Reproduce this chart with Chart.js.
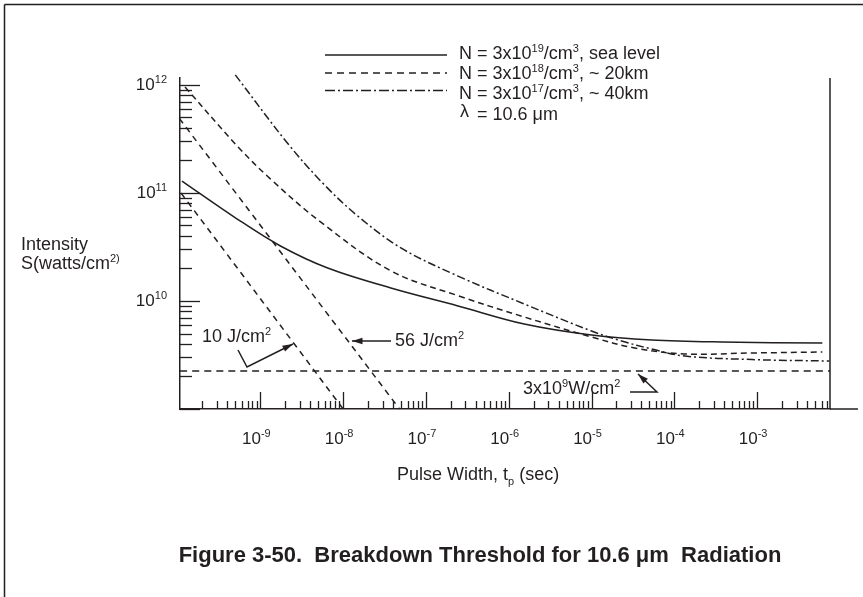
<!DOCTYPE html>
<html>
<head>
<meta charset="utf-8">
<script src="https://cdn.jsdelivr.net/npm/chart.js@4/dist/chart.umd.min.js"></script>
<style>
  body { margin: 0; background: #fff; }
  canvas { display: block; }
</style>
</head>
<body>
<canvas id="chart" width="863" height="597"></canvas>
<script>
// Pulse width t (sec) and threshold intensity S (W/cm2)
var seaLevelT = [1.13e-10, 5.26e-10, 1.75e-9, 6.5e-9, 3.77e-8, 2.44e-7, 1.54e-6, 1.0e-5, 5.33e-5, 3.77e-4, 6.14e-3];
var seaLevelS = [1.29e11, 5.74e10, 3.23e10, 2.02e10, 1.32e10, 9.0e9, 6.12e9, 4.84e9, 4.35e9, 4.17e9, 4.08e9];

var km20T = [1.23e-10, 5.26e-10, 1.32e-9, 5.33e-9, 3.77e-8, 2.44e-7, 1.54e-6, 1.0e-5, 3.32e-5, 1.34e-4, 8.69e-4, 6.14e-3];
var km20S = [9.58e11, 2.72e11, 1.35e11, 5.39e10, 1.9e10, 1.12e10, 7.11e9, 4.64e9, 3.67e9, 3.23e9, 3.30e9, 3.37e9];

var km40T = [4.98e-10, 2.12e-9, 5.81e-9, 1.5e-8, 4.98e-8, 2.44e-7, 1.54e-6, 1.0e-5, 2.31e-5, 5.33e-5, 1.34e-4, 8.69e-4, 7.46e-3];
var km40S = [1.24e12, 2.9e11, 1.21e11, 6.12e10, 3.1e10, 1.7e10, 9.38e9, 5.27e9, 4.26e9, 3.59e9, 3.09e9, 2.87e9, 2.78e9];

// constant fluence lines (10 and 56 J/cm2) and the 3x10^9 W/cm2 level
var fluence10T = [1.1e-10, 1.0e-8];
var fluence10S = [1.0e11, 1.0e9];
var fluence56T = [1.05e-10, 4.8e-8];
var fluence56S = [4.9e11, 1.0e9];
var levelT = [1.07e-10, 7.6e-3];
var levelS = [2.25e9, 2.25e9];

// axes
var xMin = 1.07e-10, xMax = 7.6e-3;
var yMin = 1e9, yMax = 1.16e12;
var xExponents = ['-9', '-8', '-7', '-6', '-5', '-4', '-3'];
var yExponents = ['10', '11', '12'];

// legend text
var densityExp = ['19', '18', '17'];
var altitudes = [', sea level', ', ~ 20km', ', ~ 40km'];

const ink = '#231f20';
const FONT = "'Liberation Sans', Arial, sans-serif";

function pts(xs, ys) {
    return xs.map(function (x, i) { return { x: x, y: ys[i] }; });
}

function curve(label, xs, ys, dash) {
    return {
        label: label,
        data: pts(xs, ys),
        showLine: true,
        borderColor: ink,
        borderWidth: 1.5,
        borderDash: dash,
        pointRadius: 0,
        tension: 0.35,
        clip: 4
    };
}

// draws a run of normal / superscript / subscript pieces
function rich(ctx, parts, x, y, align, size, bold) {
    const small = Math.round(size * 0.62);
    const w = bold ? 'bold ' : '';
    let total = 0;
    parts.forEach(function (p) {
        ctx.font = w + (p[1] === 'n' ? size : small) + 'px ' + FONT;
        total += ctx.measureText(p[0]).width;
    });
    let cx = align === 'center' ? x - total / 2 : align === 'right' ? x - total : x;
    ctx.textAlign = 'left';
    ctx.textBaseline = 'alphabetic';
    parts.forEach(function (p) {
        ctx.font = w + (p[1] === 'n' ? size : small) + 'px ' + FONT;
        let dy = p[1] === 'sup' ? -size * 0.4 : p[1] === 'sub' ? size * 0.25 : 0;
        ctx.fillText(p[0], cx, y + dy);
        cx += ctx.measureText(p[0]).width;
    });
}

function seg(ctx, x1, y1, x2, y2) {
    ctx.beginPath();
    ctx.moveTo(x1, y1);
    ctx.lineTo(x2, y2);
    ctx.stroke();
}

function arrow(ctx, path) {
    ctx.beginPath();
    ctx.moveTo(path[0][0], path[0][1]);
    for (let i = 1; i < path.length; i++) ctx.lineTo(path[i][0], path[i][1]);
    ctx.stroke();
    const a = path[path.length - 2], b = path[path.length - 1];
    const ang = Math.atan2(b[1] - a[1], b[0] - a[0]);
    ctx.beginPath();
    ctx.moveTo(b[0], b[1]);
    ctx.lineTo(b[0] - 11 * Math.cos(ang - 0.3), b[1] - 11 * Math.sin(ang - 0.3));
    ctx.lineTo(b[0] - 11 * Math.cos(ang + 0.3), b[1] - 11 * Math.sin(ang + 0.3));
    ctx.closePath();
    ctx.fill();
}

function logTicks(ctx, scale, area, horizontal, majorLen, minorLen) {
    const lo = Math.floor(Math.log10(scale.min));
    const hi = Math.ceil(Math.log10(scale.max));
    for (let e = lo; e <= hi; e++) {
        for (let k = 1; k <= 9; k++) {
            const v = k * Math.pow(10, e);
            if (v < scale.min * 0.999 || v > scale.max * 1.001) continue;
            const p = Math.round(scale.getPixelForValue(v)) + 0.5;
            const len = k === 1 ? majorLen : minorLen;
            if (horizontal) seg(ctx, p, area.bottom, p, area.bottom - len);
            else seg(ctx, area.left, p, area.left + len, p);
        }
    }
}

const extras = {
    id: 'extras',
    afterDraw(chart) {
        const ctx = chart.ctx, a = chart.chartArea;
        const xs = chart.scales.x, ys = chart.scales.y;
        ctx.save();
        ctx.strokeStyle = ink;
        ctx.fillStyle = ink;
        ctx.lineWidth = 1.5;

        // page frame (top and left)
        seg(ctx, 4.5, 4.5, 863, 4.5);
        seg(ctx, 4.5, 4.5, 4.5, 597);

        // right edge and x axis running past it
        seg(ctx, a.right, a.top, a.right, a.bottom);
        seg(ctx, a.right, a.bottom, 858, a.bottom);

        // inward ticks
        ctx.lineWidth = 1.3;
        logTicks(ctx, xs, a, true, 17, 8);
        logTicks(ctx, ys, a, false, 20, 12);

        // tick labels
        xExponents.forEach(function (e) {
            const p = xs.getPixelForValue(Math.pow(10, +e));
            rich(ctx, [['10', 'n'], [e, 'sup']], p - 4, 444, 'center', 17);
        });
        yExponents.forEach(function (e) {
            const p = ys.getPixelForValue(Math.pow(10, +e));
            rich(ctx, [['10', 'n'], [e, 'sup']], 167, p + 5, 'right', 17);
        });

        // axis titles
        rich(ctx, [['Intensity', 'n']], 21, 250, 'left', 18);
        rich(ctx, [['S(watts/cm', 'n'], ['2)', 'sup']], 21, 269, 'left', 18);
        rich(ctx, [['Pulse Width, t', 'n'], ['p', 'sub'], [' (sec)', 'n']], 397, 480, 'left', 18);

        // legend
        ctx.lineWidth = 1.5;
        const sampleY = [55, 73, 90.5];
        const textY = [59, 79, 99];
        chart.data.datasets.slice(0, 3).forEach(function (ds, i) {
            ctx.setLineDash(i === 0 ? [] : i === 1 ? [7, 5] : [10, 3, 2, 3]);
            seg(ctx, 325, sampleY[i], 447, sampleY[i]);
            ctx.setLineDash([]);
            rich(ctx, [['N = 3x10', 'n'], [densityExp[i], 'sup'], ['/cm', 'n'], ['3', 'sup'], [altitudes[i], 'n']], 459, textY[i], 'left', 18);
        });
        rich(ctx, [['\u03bb', 'n']], 460, 117, 'left', 18);
        rich(ctx, [['= 10.6 \u03bcm', 'n']], 477, 120, 'left', 18);

        // annotations
        ctx.lineWidth = 1.5;
        rich(ctx, [['10 J/cm', 'n'], ['2', 'sup']], 202, 342, 'left', 18);
        arrow(ctx, [[238, 350], [247, 367], [293, 344]]);
        rich(ctx, [['56 J/cm', 'n'], ['2', 'sup']], 395, 346, 'left', 18);
        arrow(ctx, [[391, 341], [352, 341]]);
        rich(ctx, [['3x10', 'n'], ['9', 'sup'], ['W/cm', 'n'], ['2', 'sup']], 523, 394, 'left', 18);
        arrow(ctx, [[630, 392], [657, 392], [638, 374]]);

        // caption
        rich(ctx, [['Figure 3-50.  Breakdown Threshold for 10.6 \u03bcm  Radiation', 'n']], 480, 562, 'center', 22, true);
        ctx.restore();
    }
};

const ctx = document.getElementById('chart').getContext('2d');
const chart = new Chart(ctx, {
    type: 'scatter',
    data: {
        datasets: [
            curve('sea level', seaLevelT, seaLevelS, []),
            curve('~ 20km', km20T, km20S, [6, 4]),
            curve('~ 40km', km40T, km40S, [8, 3, 2, 3]),
            curve('10 J/cm2', fluence10T, fluence10S, [6, 5]),
            curve('56 J/cm2', fluence56T, fluence56S, [6, 5]),
            curve('3x10^9 W/cm2', levelT, levelS, [7, 5])
        ]
    },
    options: {
        responsive: false,
        animation: false,
        layout: { padding: { top: 78, right: 33, left: 0, bottom: 0 } },
        plugins: { legend: { display: false }, tooltip: { enabled: false } },
        scales: {
            x: {
                type: 'logarithmic', min: xMin, max: xMax,
                grid: { display: false },
                border: { color: ink, width: 1.5 },
                ticks: { display: false },
                afterFit: function (s) { s.height = 188; }
            },
            y: {
                type: 'logarithmic', min: yMin, max: yMax,
                grid: { display: false },
                border: { color: ink, width: 1.5 },
                ticks: { display: false },
                afterFit: function (s) { s.width = 180; }
            }
        }
    },
    plugins: [extras]
});
</script>
</body>
</html>
